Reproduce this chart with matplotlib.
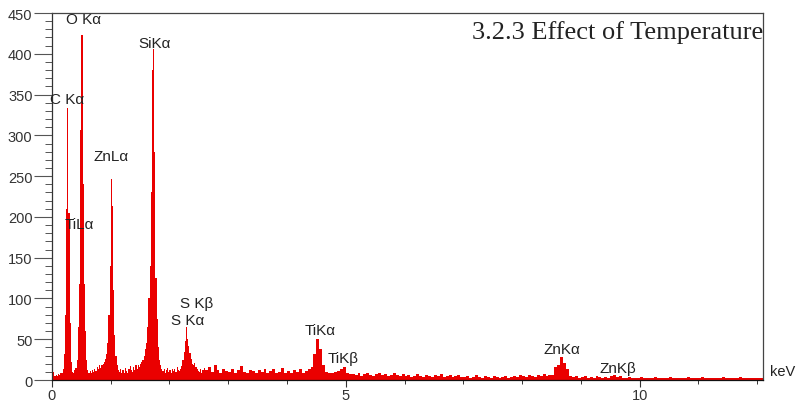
import numpy as np
import matplotlib.pyplot as plt

# EDS spectrum, counts per channel
# 0.00 - 2.60 keV, 0.02 keV channels
counts_low = [
    16, 10, 5, 6, 5, 7, 6, 8, 9, 14,
    32, 80, 210, 333, 205, 70, 22, 10, 8, 12,
    15, 25, 65, 118, 307, 423, 240, 118, 60, 24,
    12, 9, 11, 8, 12, 10, 14, 11, 16, 13,
    18, 15, 18, 20, 22, 26, 32, 45, 80, 140,
    246, 213, 110, 55, 30, 18, 12, 10, 14, 9,
    12, 8, 15, 11, 9, 13, 17, 12, 10, 16,
    12, 18, 14, 18, 16, 20, 22, 25, 30, 38,
    45, 65, 100, 140, 230, 380, 406, 280, 125, 75,
    40, 24, 18,
    14, 11, 13, 9, 12, 15, 10, 12, 9, 14, 11, 13, 10, 16, 12, 11, 14, 17,
    24, 34, 48, 65, 50, 42, 33, 26, 20, 18, 21, 16, 13, 11,
    10, 13, 9, 12, 15,
]
# 2.60 - 12.10 keV, 0.05 keV channels
counts_high = [
    12, 16, 10, 19, 12, 9, 14, 11,
    10, 13, 9, 12, 17, 10, 8, 12, 11, 9,
    12, 10, 14, 9, 11, 13, 8, 10, 15, 9,
    11, 9, 12, 10, 13, 9, 11, 14,
    16, 32, 50, 38, 18, 10,
    9, 8, 10, 11, 13, 16, 9, 7,
    7, 6, 8, 5, 7, 9, 6, 5, 7, 8, 6, 7, 5, 6, 8, 6, 5, 7,
    5, 6, 4, 5, 7, 5, 4, 6, 5, 4, 6, 5, 7, 4, 5, 6, 4, 5, 6, 4,
    4, 5, 3, 4, 6, 4, 3, 5, 4, 3, 5, 4, 3, 4, 5, 3, 4, 5, 4, 6,
    5, 4, 6, 5, 4, 6, 5, 7, 5, 6,
    6, 16, 19, 28, 21, 13, 5,
    4, 5, 3, 4, 5, 3, 4, 3, 5, 4, 3, 4, 3,
    5, 6, 4, 5,
    3, 2, 4, 3, 2, 3, 4, 2, 3, 3, 2, 4, 3, 2, 3, 2, 4, 3, 2, 3, 3, 2, 4, 2,
    3, 2, 3, 4, 2, 3, 2, 3, 3, 2, 4, 3, 2, 3, 2, 3, 4, 2, 3, 2, 3, 2, 3, 2,
]

# peak labels: text, energy (keV), counts
peak_names = ["O K\u03b1", "SiK\u03b1", "C K\u03b1", "ZnL\u03b1", "TiL\u03b1",
              "S K\u03b2", "S K\u03b1", "TiK\u03b1", "TiK\u03b2", "ZnK\u03b1", "ZnK\u03b2"]
peak_x = [0.53, 1.75, 0.25, 1.00, 0.46, 2.47, 2.31, 4.56, 4.95, 8.67, 9.63]
peak_y = [443, 413, 345, 275, 191, 94, 74, 61, 27, 38, 15]

edges_low = np.arange(len(counts_low) + 1) * 0.02
edges_high = edges_low[-1] + np.arange(1, len(counts_high) + 1) * 0.05
edges = np.concatenate([edges_low, edges_high])
counts = np.array(counts_low + counts_high)

fig = plt.figure(figsize=(7.96, 4.02), dpi=100)
ax = fig.add_axes([0.0653, 0.0522, 0.8932, 0.9129])

ax.stairs(counts, edges, fill=True, color='#ea0000', baseline=0)

ax.set_xlim(0, 12.1)
ax.set_ylim(0, 450)
ax.set_xticks([0, 5, 10])
ax.set_xticks(np.arange(0, 13, 1), minor=True)
ax.set_yticks(np.arange(0, 451, 50))
ax.set_yticks(np.arange(0, 451, 10), minor=True)

for s in ax.spines.values():
    s.set_color('#444444')
    s.set_linewidth(0.9)
ax.spines['bottom'].set_color('#111111')
ax.spines['left'].set_color('#333333')

ax.tick_params(axis='y', which='major', length=13, width=0.8, color='#555555',
               labelsize=10.5, labelcolor='#333333', pad=1)
ax.tick_params(axis='y', which='minor', length=5, width=0.7, color='#555555')
ax.tick_params(axis='x', which='major', length=5, width=0.8, color='#333333',
               labelsize=10.5, labelcolor='#333333', pad=0.5)
ax.tick_params(axis='x', which='minor', length=3, width=0.7, color='#333333')
for lab in ax.get_xticklabels() + ax.get_yticklabels():
    lab.set_family('Liberation Sans')

for name, x, y in zip(peak_names, peak_x, peak_y):
    ax.text(x, y, name, ha='center', va='center', fontsize=11,
            family='Liberation Sans', color='#222222', clip_on=False)

ax.text(1.0098, 11, "keV", transform=ax.get_yaxis_transform(), ha='left',
        va='center', fontsize=10.5, family='Liberation Sans', color='#222222')
ax.text(1.0, 0.951, "3.2.3 Effect of Temperature", transform=ax.transAxes,
        ha='right', va='center', fontsize=19, family='Liberation Serif',
        color='#222222')

fig.savefig("out.png", dpi=100)
